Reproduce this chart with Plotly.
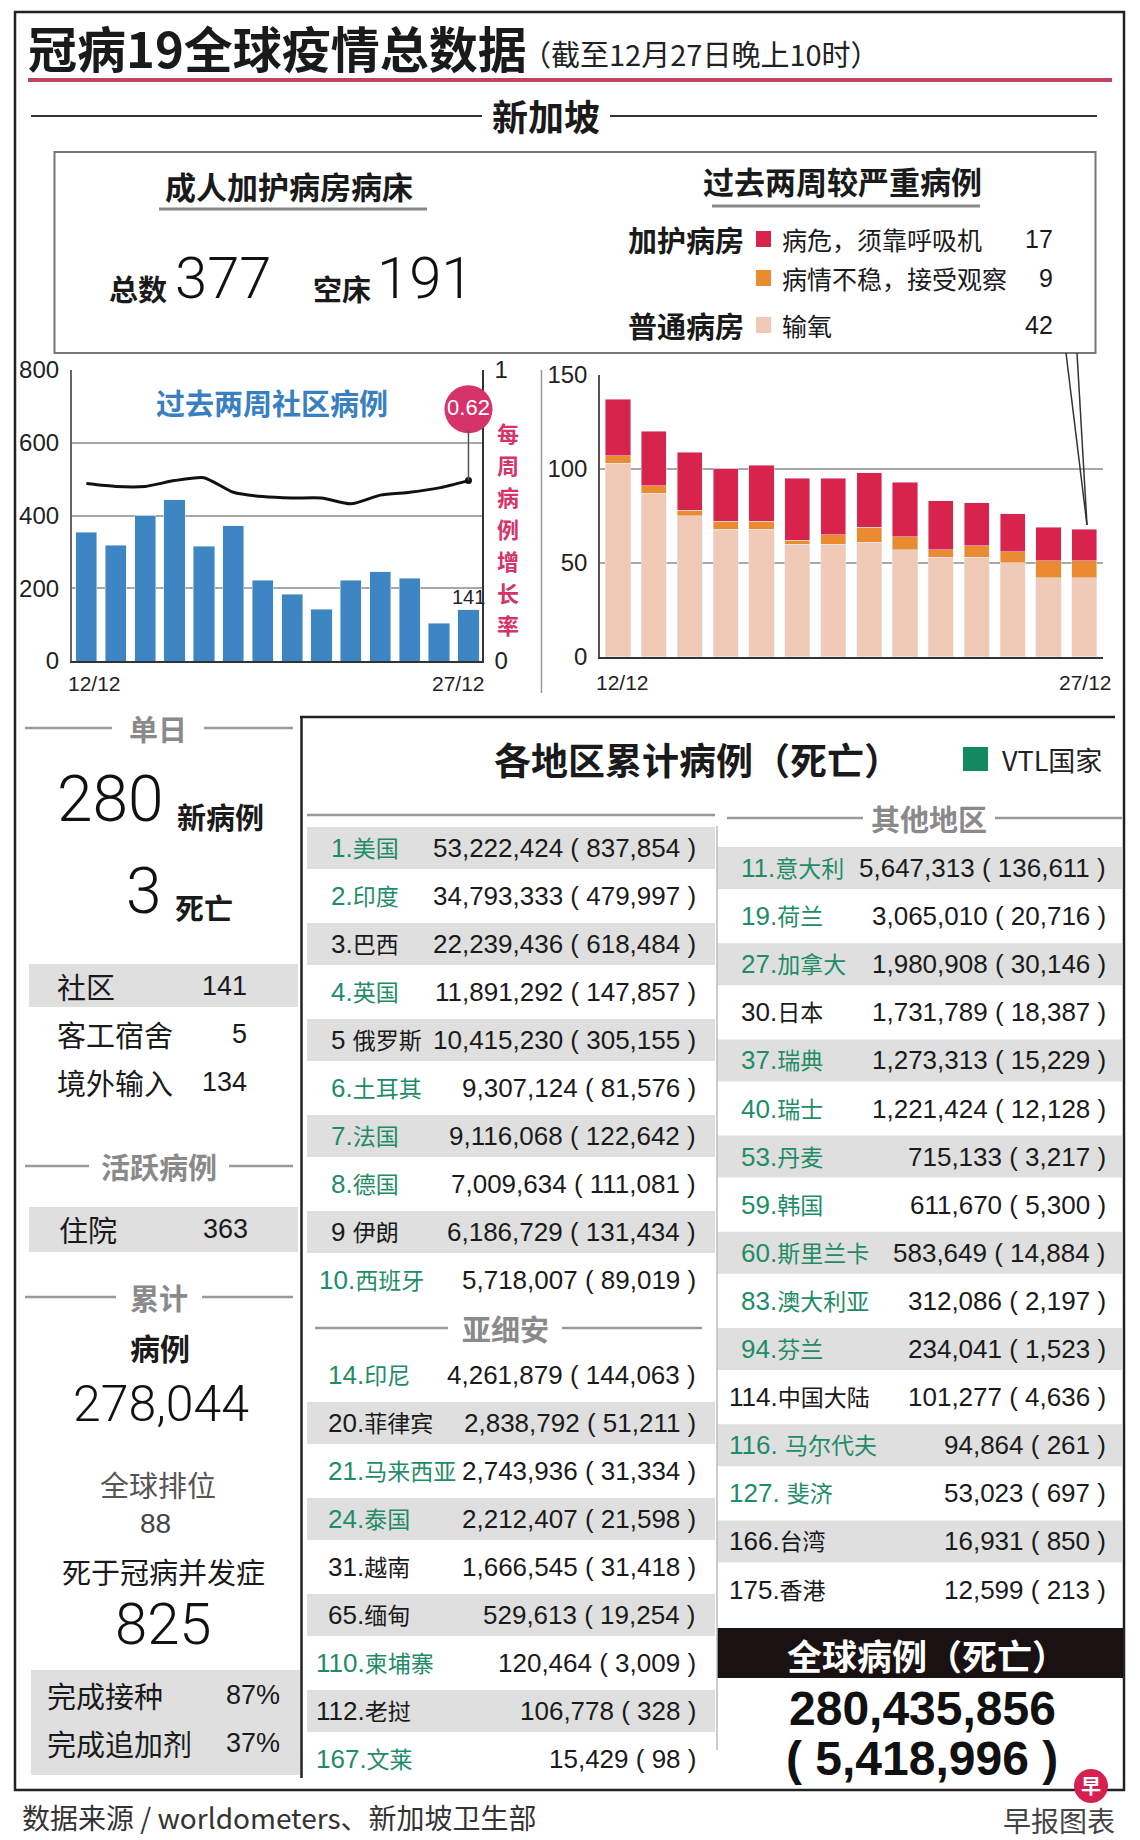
import plotly.graph_objects as go

W, H = 1140, 1840

# ---- data -------------------------------------------------------------
community_cases = [354, 318, 400, 443, 316, 372, 222, 183, 142, 222, 245, 227, 104, 141]
weekly_growth = [0.61, 0.60, 0.60, 0.62, 0.63, 0.58, 0.565, 0.56, 0.56, 0.54, 0.57, 0.58, 0.595, 0.62]
oxygen = [103, 87, 75, 68, 68, 60, 60, 61, 57, 53, 53, 50, 42, 42]
unstable = [4, 4, 3, 4, 4, 2, 5, 8, 7, 4, 6, 6, 9, 9]
critical = [30, 29, 31, 28, 30, 33, 30, 29, 29, 26, 23, 20, 18, 17]
date_labels = ["12/12", "27/12"]

icu_total, icu_empty = "377", "191"
severe_labels = ["病危，须靠呼吸机", "病情不稳，接受观察", "输氧"]
severe_values = ["17", "9", "42"]

sg_daily = ["280", "3"]
sg_breakdown = [("社区", "141"), ("客工宿舍", "5"), ("境外输入", "134")]
sg_hospital = "363"
sg_total, sg_rank, sg_deaths = "278,044", "88", "825"
sg_vacc = [("完成接种", "87%"), ("完成追加剂", "37%")]

top_rank = ["1.", "2.", "3.", "4.", "5 ", "6.", "7.", "8.", "9 ", "10."]
top_name = ["美国", "印度", "巴西", "英国", "俄罗斯", "土耳其", "法国", "德国", "伊朗", "西班牙"]
top_cases = ["53,222,424", "34,793,333", "22,239,436", "11,891,292", "10,415,230",
             "9,307,124", "9,116,068", "7,009,634", "6,186,729", "5,718,007"]
top_deaths = ["837,854", "479,997", "618,484", "147,857", "305,155",
              "81,576", "122,642", "111,081", "131,434", "89,019"]
top_vtl = [1, 1, 0, 1, 0, 1, 1, 1, 0, 1]

asean_rank = ["14.", "20.", "21.", "24.", "31.", "65.", "110.", "112.", "167."]
asean_name = ["印尼", "菲律宾", "马来西亚", "泰国", "越南", "缅甸", "柬埔寨", "老挝", "文莱"]
asean_cases = ["4,261,879", "2,838,792", "2,743,936", "2,212,407", "1,666,545",
               "529,613", "120,464", "106,778", "15,429"]
asean_deaths = ["144,063", "51,211", "31,334", "21,598", "31,418", "19,254", "3,009", "328", "98"]
asean_vtl = [1, 0, 1, 1, 0, 0, 1, 0, 1]

other_rank = ["11.", "19.", "27.", "30.", "37.", "40.", "53.", "59.", "60.", "83.",
              "94.", "114.", "116. ", "127. ", "166.", "175."]
other_name = ["意大利", "荷兰", "加拿大", "日本", "瑞典", "瑞士", "丹麦", "韩国", "斯里兰卡",
              "澳大利亚", "芬兰", "中国大陆", "马尔代夫", "斐济", "台湾", "香港"]
other_cases = ["5,647,313", "3,065,010", "1,980,908", "1,731,789", "1,273,313", "1,221,424",
               "715,133", "611,670", "583,649", "312,086", "234,041", "101,277",
               "94,864", "53,023", "16,931", "12,599"]
other_deaths = ["136,611", "20,716", "30,146", "18,387", "15,229", "12,128", "3,217", "5,300",
                "14,884", "2,197", "1,523", "4,636", "261", "697", "850", "213"]
other_vtl = [1, 1, 1, 0, 1, 1, 1, 1, 1, 1, 1, 0, 1, 1, 0, 0]

world_cases, world_deaths = "280,435,856", "5,418,996"

# ---- style ------------------------------------------------------------
CJK = "Noto Sans CJK SC"
NUM = "Liberation Sans, Arial, Noto Sans CJK SC, sans-serif"
BIG = "Roboto, Liberation Sans, sans-serif"
BLACK = "#1a1a1a"
GREY_HEAD = "#8a8a8a"
GREEN = "#1f8c68"
BAND = "#dfdfdf"
BLUE = "#3d86c3"
CRIMSON = "#d8234c"
ORANGE = "#e98b2e"
PINK = "#f0c9b7"
MAGENTA = "#d6336a"


def px(x):
    return x / W


def py(y):
    return 1 - y / H


shapes = []
annotations = []


def line(x0, y0, x1, y1, color="#333", width=2):
    shapes.append(dict(type="line", xref="paper", yref="paper", x0=px(x0), y0=py(y0),
                       x1=px(x1), y1=py(y1), line=dict(color=color, width=width)))


def rect(x0, y0, x1, y1, fill=None, color=None, width=0):
    shapes.append(dict(type="rect", xref="paper", yref="paper", x0=px(x0), y0=py(y0),
                       x1=px(x1), y1=py(y1), fillcolor=fill or "rgba(0,0,0,0)",
                       line=dict(color=color or "rgba(0,0,0,0)", width=width), layer="below"))


def text(x, y, s, size, color=BLACK, family=CJK, anchor="center", bold=False, weight=None):
    annotations.append(dict(x=px(x), y=py(y), xref="paper", yref="paper", text=s,
                            showarrow=False, xanchor=anchor, yanchor="middle",
                            font=dict(size=size, color=color, family=family,
                                      weight=weight or ("bold" if bold else "normal"))))


def big(x, y, s, size, anchor="center"):
    text(x, y, s, size, "#111", BIG, anchor, weight=300)


def header(cx, y, s, x0, x1, gap):
    text(cx, y, s, 29, GREY_HEAD, bold=True)
    line(x0, y, cx - gap, y, "#9a9a9a", 2.5)
    line(cx + gap, y, x1, y, "#9a9a9a", 2.5)


# ---- frame & headings -------------------------------------------------
rect(15, 12, 1124, 1790, color="#222", width=2.5)
text(26, 47, "冠病19全球疫情总数据", 49, BLACK, anchor="left", bold=True)
text(520, 53, "（截至12月27日晚上10时）", 29, "#222", anchor="left")
line(28, 80, 1112, 80, "#c4435f", 4)
text(546, 115, "新加坡", 36, BLACK, bold=True)
line(31, 116, 482, 116, "#333", 2)
line(610, 116, 1097, 116, "#333", 2)

# top info box
rect(54.5, 152, 1095.5, 353, color="#777", width=2)
text(289, 185, "成人加护病房病床", 31, bold=True)
line(159, 209, 427, 209, "#888", 3)
text(107, 288, "总数", 29, bold=True, anchor="left")
big(223, 278, icu_total, 58)
text(311, 288, "空床", 29, bold=True, anchor="left")
big(425, 278, icu_empty, 58)

text(842, 181, "过去两周较严重病例", 31, bold=True)
line(712, 206, 980, 206, "#888", 3)
legend_y = [239, 278, 325]
for i, (lab, val, col) in enumerate(zip(severe_labels, severe_values, [CRIMSON, ORANGE, PINK])):
    rect(756, legend_y[i] - 8, 771, legend_y[i] + 8, fill=col)
    text(780, legend_y[i], lab, 25, anchor="left")
    text(1055, legend_y[i], val, 25, family=NUM, anchor="right")
text(626, 239, "加护病房", 29, bold=True, anchor="left")
text(626, 325, "普通病房", 29, bold=True, anchor="left")

# ---- charts -----------------------------------------------------------
days = list(range(len(community_cases)))
fig = go.Figure()
fig.add_trace(go.Bar(x=days, y=community_cases, marker_color=BLUE, width=0.72,
                     xaxis="x", yaxis="y", showlegend=False))
fig.add_trace(go.Scatter(x=days, y=weekly_growth, mode="lines", line=dict(color="#111", width=3,
                         shape="spline", smoothing=0.6), xaxis="x", yaxis="y2", showlegend=False))
fig.add_trace(go.Scatter(x=[days[-1]], y=[weekly_growth[-1]], mode="markers",
                         marker=dict(color="#111", size=7), xaxis="x", yaxis="y2", showlegend=False))
# bubble holding the latest weekly growth rate, sitting above the last point
fig.add_trace(go.Scatter(x=[days[-1]], y=[weekly_growth[-1] + 0.245], mode="markers+text",
                         marker=dict(color=MAGENTA, size=48, line=dict(width=0)),
                         text=[f"{weekly_growth[-1]:.2f}"], textposition="middle center",
                         textfont=dict(family=NUM, size=22, color="white"),
                         cliponaxis=False, xaxis="x", yaxis="y2", showlegend=False))
for vals, col in [(oxygen, PINK), (unstable, ORANGE), (critical, CRIMSON)]:
    fig.add_trace(go.Bar(x=days, y=vals, marker_color=col, width=0.7,
                         xaxis="x2", yaxis="y3", showlegend=False))

# left chart decorations
text(272, 402, "过去两周社区病例", 29, "#3a7fc1", bold=True)
for i, ch in enumerate("每周病例增长率"):
    text(508, 432 + 32 * i, ch, 22, MAGENTA, bold=True)
text(94, 683, date_labels[0], 21, "#222", NUM)
text(459, 683, date_labels[1], 21, "#222", NUM)
annotations.append(dict(x=days[-1], y=community_cases[-1], xref="x", yref="y", text=str(community_cases[-1]),
                        showarrow=False, yanchor="bottom", yshift=0,
                        font=dict(size=20, color="#222", family=NUM)))
shapes.append(dict(type="line", xref="x", yref="y2", xsizemode="pixel", ysizemode="pixel",
                   xanchor=days[-1], yanchor=weekly_growth[-1], x0=0, x1=0, y0=0, y1=50,
                   line=dict(color="#555", width=1.5)))

# right chart decorations
line(541.5, 370, 541.5, 693, "#999", 1.5)
text(622, 682, date_labels[0], 21, "#222", NUM)
text(1085, 682, date_labels[1], 21, "#222", NUM)
line(1066, 353, 1087, 525, "#333", 1.5)
line(1077, 353, 1087, 525, "#333", 1.5)

# ---- Singapore column -------------------------------------------------
header(158, 728, "单日", 25, 293, 46)
big(55, 800, sg_daily[0], 64, anchor="left")
text(175, 816, "新病例", 29, bold=True, anchor="left")
big(124, 891, sg_daily[1], 64, anchor="left")
text(173, 907, "死亡", 29, bold=True, anchor="left")
rect(29, 964, 298, 1007, fill=BAND)
for i, (lab, val) in enumerate(sg_breakdown):
    text(55, 986 + 48 * i, lab, 29, anchor="left")
    text(249, 986 + 48 * i, val, 27, family=NUM, anchor="right")

header(159, 1166, "活跃病例", 25, 293, 70)
rect(29, 1207, 298, 1252, fill=BAND)
text(57, 1229, "住院", 29, anchor="left")
text(250, 1229, sg_hospital, 27, family=NUM, anchor="right")

header(159, 1297, "累计", 25, 293, 43)
text(160, 1347, "病例", 30, bold=True)
big(161, 1404, sg_total, 50)
text(158, 1484, "全球排位", 29, "#555")
text(155, 1523, sg_rank, 28, "#444", NUM)
text(163, 1571, "死于冠病并发症", 29)
big(163, 1624, sg_deaths, 58)
rect(31, 1670, 300, 1775, fill=BAND)
for i, (lab, val) in enumerate(sg_vacc):
    text(45, 1695 + 48 * i, lab, 29, anchor="left")
    text(282, 1695 + 48 * i, val, 27, family=NUM, anchor="right")

# ---- country tables ---------------------------------------------------
line(300, 717, 1115, 717, "#222", 2.5)
line(301.5, 717, 301.5, 1778, "#222", 2.5)
line(717, 826, 717, 1750, "#bbb", 1.5)
text(492, 759, "各地区累计病例（死亡）", 37, bold=True, anchor="left")
rect(963, 747, 988, 771, fill="#12895f")
text(1000, 759, "VTL国家", 27, "#222", anchor="left")
line(307, 815, 715, 815, "#999", 2.5)
header(929, 818, "其他地区", 727, 1122, 66)
header(505, 1328, "亚细安", 315, 702, 57)


def table(ranks, names, cases, deaths, vtl, y0, step, name_x, digits0, val_x, x0, x1, band_parity):
    for i in range(len(ranks)):
        y = y0 + step * i
        if i % 2 == band_parity:
            rect(x0, y - 21, x1, y + 21, fill=BAND)
        nd = len(ranks[i].strip(". "))
        text(name_x - 12 * (nd - digits0), y,
             f'{ranks[i]}<span style="font-size:23px">{names[i]}</span>', 26,
             GREEN if vtl[i] else BLACK, NUM, anchor="left")
        text(val_x, y, f"{cases[i]} ( {deaths[i]} )", 26, BLACK, NUM, anchor="right")


table(top_rank, top_name, top_cases, top_deaths, top_vtl, 848, 48, 329, 1, 698, 307, 715, 0)
table(asean_rank, asean_name, asean_cases, asean_deaths, asean_vtl, 1375, 48, 326, 2, 698, 307, 715, 1)
table(other_rank, other_name, other_cases, other_deaths, other_vtl, 868, 48.1, 739, 2, 1108, 717, 1122, 0)

rect(717, 1628, 1123, 1678, fill="#1a1212")
text(927, 1654, "全球病例（死亡）", 35, "white", bold=True)
text(922, 1708, world_cases, 48, "#111", NUM, bold=True)
text(922, 1758, f"( {world_deaths} )", 48, "#111", NUM, bold=True)

# footer
text(20, 1817, "数据来源 / worldometers、新加坡卫生部", 28, "#333", anchor="left")
text(1117, 1820, "早报图表", 28, "#444", anchor="right")
shapes.append(dict(type="circle", xref="paper", yref="paper", x0=px(1074), x1=px(1108),
                   y0=py(1769), y1=py(1803), fillcolor="#d6204f", line=dict(width=0)))
text(1091, 1785, "早", 20, "white", bold=True)

# ---- layout -----------------------------------------------------------
tick_font = dict(family=NUM, size=24, color="#222")
fig.update_layout(
    width=W, height=H, margin=dict(l=0, r=0, t=0, b=0, pad=0, autoexpand=False),
    paper_bgcolor="white", plot_bgcolor="rgba(0,0,0,0)",
    barmode="stack", bargap=0.28,
    shapes=shapes, annotations=annotations,
    xaxis=dict(domain=[px(71.7), px(481.7)], anchor="y", range=[-0.5, 13.45],
               showticklabels=False, showgrid=False, zeroline=False, automargin=False,
               showline=True, linecolor="#333", linewidth=2, fixedrange=True),
    yaxis=dict(domain=[py(661), py(370)], anchor="x", range=[0, 800],
               tickvals=[0, 200, 400, 600, 800], tickfont=tick_font, automargin=False,
               gridcolor="#a8a8a8", gridwidth=1.5, zeroline=False,
               showline=True, linecolor="#666", linewidth=1.5, ticklabelstandoff=6),
    yaxis2=dict(overlaying="y", side="right", anchor="x", range=[0, 1], tickvals=[0, 1],
                tickfont=tick_font, showgrid=False, zeroline=False, automargin=False,
                showline=True, linecolor="#333", linewidth=2, ticklabelstandoff=6,
                layer="below traces"),
    xaxis2=dict(domain=[px(600), px(1103)], anchor="y3", range=[-0.5, 13.52],
                showticklabels=False, showgrid=False, zeroline=False, automargin=False,
                showline=True, linecolor="#333", linewidth=2),
    yaxis3=dict(domain=[py(656.7), py(375)], anchor="x2", range=[0, 150],
                tickvals=[0, 50, 100, 150], tickfont=tick_font, automargin=False,
                gridcolor="#a8a8a8", gridwidth=1.5, zeroline=False,
                showline=True, linecolor="#555", linewidth=1.5, ticklabelstandoff=6),
)

pin_page = (
    "document.body.style.margin = '0';"
    "var g = document.getElementById('{plot_id}');"
    "g.style.position = 'absolute'; g.style.top = '0'; g.style.left = '0';"
)
fig.write_html("out.html", config={"displayModeBar": False}, post_script=pin_page)
